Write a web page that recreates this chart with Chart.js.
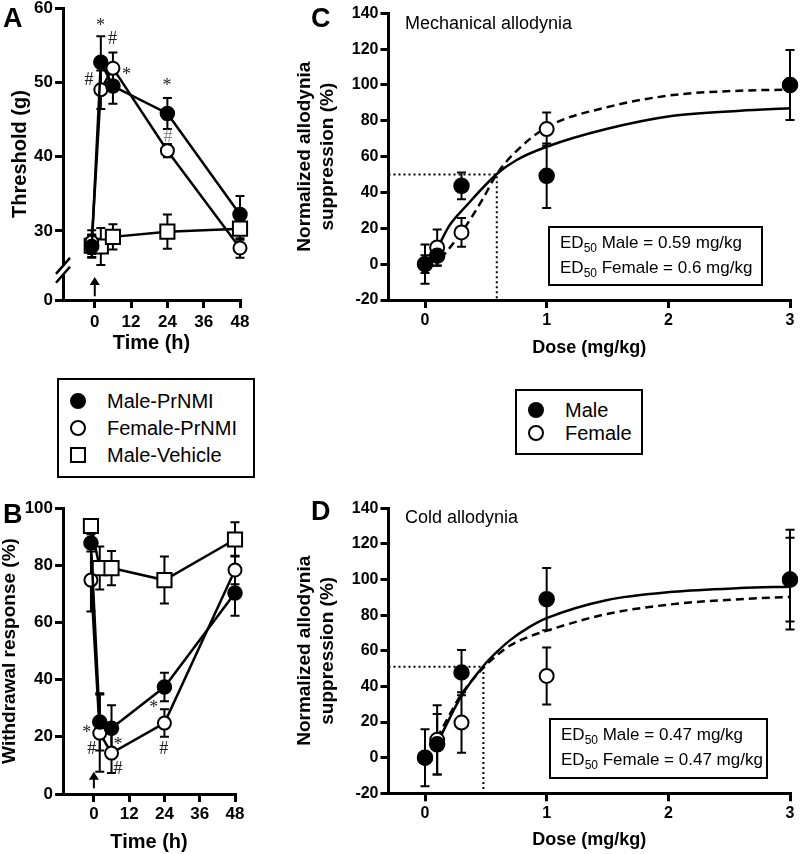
<!DOCTYPE html>
<html>
<head>
<meta charset="utf-8">
<script src="https://cdn.jsdelivr.net/npm/chart.js@4.4.0/dist/chart.umd.min.js"></script>
<style>
  body { margin: 0; background: #fff; }
  #page { position: relative; width: 800px; height: 854px; overflow: hidden;
          font-family: "Liberation Sans", Arial, sans-serif; color: #000; }
  canvas { position: absolute; }
  .lbl { position: absolute; font-weight: bold; font-size: 27px; line-height: 1; }
  .note { position: absolute; font-size: 18px; line-height: 1; white-space: nowrap; }
  .box { position: absolute; border: 2px solid #000; box-sizing: border-box; background: #fff; }
  .row { position: absolute; left: 0; height: 24px; line-height: 24px; font-size: 20px; white-space: nowrap; }
  .row span.t { position: absolute; left: 48px; top: 0; }
  .mk { position: absolute; left: 11px; top: 4px; width: 16px; height: 16px; box-sizing: border-box;
        border: 2.5px solid #000; border-radius: 50%; background: #fff; }
  .mk.fill { background: #000; }
  .mk.sq { border-radius: 0; }
  .ed { position: absolute; border: 2px solid #000; box-sizing: border-box; font-size: 17px;
        line-height: 25px; padding: 2px 0 0 10px; white-space: nowrap; }
  .ed sub { font-size: 12px; line-height: 0; vertical-align: -4px; }
</style>
</head>
<body>
<div id="page">
  <canvas id="chartA"></canvas>
  <canvas id="chartB"></canvas>
  <canvas id="chartC"></canvas>
  <canvas id="chartD"></canvas>

  <div class="lbl" style="left:3px;top:5px">A</div>
  <div class="lbl" style="left:3px;top:501px">B</div>
  <div class="lbl" style="left:311px;top:5px">C</div>
  <div class="lbl" style="left:311px;top:498px">D</div>

  <div class="note" style="left:405px;top:14px">Mechanical allodynia</div>
  <div class="note" style="left:405px;top:508px">Cold allodynia</div>

  <div class="ed" style="left:548px;top:226px;width:215px;height:60px">ED<sub>50</sub> Male = 0.59 mg/kg<br>ED<sub>50</sub> Female = 0.6 mg/kg</div>
  <div class="ed" style="left:549px;top:718px;width:219px;height:61px">ED<sub>50</sub> Male = 0.47 mg/kg<br>ED<sub>50</sub> Female = 0.47 mg/kg</div>

  <div class="box" style="left:57px;top:378px;width:198px;height:100px">
    <div class="row" style="top:9px"><div class="mk fill"></div><span class="t">Male-PrNMI</span></div>
    <div class="row" style="top:36px"><div class="mk"></div><span class="t">Female-PrNMI</span></div>
    <div class="row" style="top:63px"><div class="mk sq"></div><span class="t">Male-Vehicle</span></div>
  </div>
  <div class="box" style="left:515px;top:389px;width:128px;height:66px">
    <div class="row" style="top:7px"><div class="mk fill"></div><span class="t">Male</span></div>
    <div class="row" style="top:30px"><div class="mk"></div><span class="t">Female</span></div>
  </div>
</div>

<script>
// time course panels (A, B)
const timeH = [-1, 2, 6, 24, 48];
const timeTicks = [0, 12, 24, 36, 48];

const aMale = [27.9, 52.7, 49.5, 45.8, 32.2];
const aMaleSem = [1.5, 3.5, 2.4, 2.1, 2.5];
const aFemale = [28.5, 49.0, 51.9, 40.8, 27.7];
const aFemaleSem = [1.6, 2.6, 2.1, 0.9, 1.3];
const aVehicle = [28.0, 27.9, 29.2, 29.9, 30.3];
const aVehicleSem = [1.5, 2.5, 1.7, 2.3, 1.5];
const aYTicks = [20.7, 30, 40, 50, 60];
const aYTickLabels = ['0', '30', '40', '50', '60'];

const bMale = [87.8, 25.2, 23.0, 37.4, 70.3];
const bMaleSem = [3, 10, 8, 5, 8];
const bFemale = [74.8, 21.3, 14.3, 24.8, 78.3];
const bFemaleSem = [11, 13.5, 7, 4.8, 5];
const bVehicle = [93.7, 79, 79, 74.8, 89];
const bVehicleSem = [2, 7.5, 6, 8.2, 6];
const bYTicks = [0, 20, 40, 60, 80, 100];

// dose response panels (C, D)
const doses = [0, 0.1, 0.3, 1, 3];
const doseTicks = [0, 1, 2, 3];
const pctTicks = [-20, 0, 20, 40, 60, 80, 100, 120, 140];

const cMale = [0, 4.7, 43.7, 49.3, 100];
const cMaleSem = [11, 5.6, 7.5, 18, 19.5];
const cFemale = [0, 9.3, 17.7, 75.4, 100];
const cFemaleSem = [5, 10, 8, 9.3, 3];
const cMaleFitX = [0.107, 0.2, 0.34, 0.59, 0.75, 1.0, 1.49, 2.04, 2.59, 3];
const cMaleFitY = [9.5, 21.5, 32.6, 50.3, 58, 65.5, 75.4, 82.8, 85.6, 87];
const cFemaleFitX = [0.13, 0.3, 0.48, 0.59, 0.75, 1.0, 1.49, 2.04, 2.59, 3];
const cFemaleFitY = [3, 17.7, 37, 50.3, 63, 76.4, 87.5, 94.4, 96.8, 97.4];

const dMale = [0, 7.5, 47.8, 89, 100];
const dMaleSem = [16, 17, 12.7, 17.5, 28];
const dFemale = [0, 10, 19.7, 45.9, 100];
const dFemaleSem = [3, 19.5, 17, 16, 23.5];
const dMaleFitX = [0.11, 0.3, 0.48, 0.6, 0.7, 0.85, 1.0, 1.49, 2.04, 2.59, 3];
const dMaleFitY = [9.4, 34.7, 51.5, 60, 66, 73, 78.3, 88.4, 93.1, 95.2, 96];
const dFemaleFitX = [0.1, 0.3, 0.48, 0.6, 0.7, 0.85, 1.0, 1.49, 2.04, 2.59, 3];
const dFemaleFitY = [11.2, 35.6, 50.5, 58, 63, 67.8, 71.3, 80.6, 86.2, 89, 90.3];

// significance marks (* vs vehicle, # vs baseline)
const aSigX = [1.9, 5.9, -1.9, 10.5, 23.9, 24.2];
const aSigY = [58.3, 55.9, 50.4, 51.7, 50.2, 42.8];
const aSigText = ['*', '#', '#', '*', '*', '#'];
const bSigX = [-2.4, -0.7, 8.2, 8.2, 20.4, 23.8];
const bSigY = [23, 16, 18.9, 9.1, 31.8, 16.1];
const bSigText = ['*', '#', '*', '#', '*', '#'];

Chart.defaults.font.family = '"Liberation Sans", Arial, sans-serif';
Chart.defaults.color = '#000';

const pts = (xs, ys) => xs.map((x, i) => ({x: x, y: ys[i]}));

function extrasPlugin(cfg) {
  return {
    id: 'extras',
    beforeDatasetsDraw(chart) {
      const {ctx, chartArea} = chart;
      const xs = chart.scales.x, ys = chart.scales.y;
      ctx.save();
      ctx.strokeStyle = '#000';
      if (cfg.ed50 !== undefined) {
        const px = xs.getPixelForValue(cfg.ed50), py = ys.getPixelForValue(cfg.half);
        ctx.lineWidth = 2;
        ctx.setLineDash([2, 3]);
        ctx.beginPath();
        ctx.moveTo(chartArea.left, py);
        ctx.lineTo(px, py);
        ctx.lineTo(px, chartArea.bottom);
        ctx.stroke();
        ctx.setLineDash([]);
      }
      ctx.lineWidth = 2;
      chart.data.datasets.forEach((ds, i) => {
        if (!ds.errors) return;
        chart.getDatasetMeta(i).data.forEach((el, j) => {
          const e = ds.errors[j];
          if (!e) return;
          const v = ds.data[j].y;
          const t = ys.getPixelForValue(v + e), b = ys.getPixelForValue(v - e);
          ctx.beginPath();
          ctx.moveTo(el.x, t); ctx.lineTo(el.x, b);
          ctx.moveTo(el.x - 4.5, t); ctx.lineTo(el.x + 4.5, t);
          ctx.moveTo(el.x - 4.5, b); ctx.lineTo(el.x + 4.5, b);
          ctx.stroke();
        });
      });
      ctx.restore();
    },
    afterDraw(chart) {
      const {ctx, chartArea} = chart;
      const xs = chart.scales.x, ys = chart.scales.y;
      ctx.save();
      if (cfg.brk) {
        const y1 = ys.getPixelForValue(cfg.brk[0]), y2 = ys.getPixelForValue(cfg.brk[1]);
        const l = chartArea.left;
        ctx.fillStyle = '#fff';
        ctx.fillRect(l - 3, y2, 6, y1 - y2);
        ctx.strokeStyle = '#000';
        ctx.lineWidth = 2.5;
        ctx.beginPath();
        [y1, y2].forEach(y => { ctx.moveTo(l - 7, y + 8); ctx.lineTo(l + 7, y - 8); });
        ctx.stroke();
      }
      if (cfg.arrow) {
        const px = xs.getPixelForValue(cfg.arrow[0]);
        const p0 = ys.getPixelForValue(cfg.arrow[1]), p1 = ys.getPixelForValue(cfg.arrow[2]);
        ctx.strokeStyle = '#000';
        ctx.fillStyle = '#000';
        ctx.lineWidth = 2;
        ctx.beginPath();
        ctx.moveTo(px, p0); ctx.lineTo(px, p1 + 6);
        ctx.stroke();
        ctx.beginPath();
        ctx.moveTo(px, p1); ctx.lineTo(px - 5, p1 + 8); ctx.lineTo(px + 5, p1 + 8);
        ctx.closePath();
        ctx.fill();
      }
      if (cfg.sigX) {
        ctx.font = '18px "Liberation Serif", "Times New Roman", serif';
        ctx.textAlign = 'center';
        ctx.textBaseline = 'alphabetic';
        cfg.sigX.forEach((sx, i) => {
          const px = xs.getPixelForValue(sx), py = ys.getPixelForValue(cfg.sigY[i]);
          const t = cfg.sigText[i];
          ctx.fillStyle = (cfg.sigGray && cfg.sigGray.includes(i)) ? '#888' : '#222';
          ctx.fillText(t, px, py + (t === '*' ? 10 : 6));
        });
      }
      ctx.restore();
    }
  };
}

function markerSet(kind, r) {
  if (kind === 'fill') return {pointRadius: r, pointBackgroundColor: '#000', pointBorderColor: '#000', pointBorderWidth: 1.5};
  if (kind === 'open') return {pointRadius: r, pointBackgroundColor: '#fff', pointBorderColor: '#000', pointBorderWidth: 2};
  return {pointRadius: 10, pointStyle: 'rect', pointBackgroundColor: '#fff', pointBorderColor: '#000', pointBorderWidth: 2};
}

function seriesDs(label, xs, ys, errs, kind, r, line) {
  return Object.assign({
    label: label, data: pts(xs, ys), errors: errs,
    showLine: line, borderColor: '#000', borderWidth: 2.5, clip: false,
    pointHoverRadius: r
  }, markerSet(kind, r));
}

function fitDs(label, xs, ys, dashed) {
  return {
    label: label, data: pts(xs, ys), showLine: true, pointRadius: 0,
    borderColor: '#000', borderWidth: 2.5, borderDash: dashed ? [8, 5] : [],
    cubicInterpolationMode: 'monotone', clip: false
  };
}

function makeChart(id, g, ax, datasets, extras) {
  const cv = document.getElementById(id);
  cv.width = g.w; cv.height = g.h;
  cv.style.left = g.x0 + 'px';
  cv.style.top = g.y0 + 'px';
  const xAxisH = g.xAxisH;
  return new Chart(cv, {
    type: 'scatter',
    data: {datasets: datasets},
    options: {
      responsive: false,
      animation: false,
      layout: {padding: {left: 0, top: g.T - g.y0, right: g.x0 + g.w - g.R, bottom: g.y0 + g.h - g.B - xAxisH}},
      plugins: {legend: {display: false}, tooltip: {enabled: false}},
      scales: {
        x: {
          type: 'linear', min: ax.xMin, max: ax.xMax,
          afterBuildTicks: s => { s.ticks = ax.xTicks.map(v => ({value: v})); },
          afterFit: s => { s.height = xAxisH; },
          border: {color: '#000', width: 3},
          grid: {drawOnChartArea: false, color: '#000', lineWidth: 3, tickLength: 8},
          ticks: {color: '#000', font: {size: ax.tickSize, weight: 'bold'}, padding: ax.xTickPad, maxRotation: 0},
          title: {display: true, text: ax.xTitle, color: '#000', font: {size: ax.xTitleSize, weight: 'bold'}, padding: 0}
        },
        y: {
          type: 'linear', min: ax.yMin, max: ax.yMax,
          afterBuildTicks: s => { s.ticks = ax.yTicks.map(v => ({value: v})); },
          afterFit: s => { s.width = g.L - g.x0; },
          border: {color: '#000', width: 3},
          grid: {drawOnChartArea: false, color: '#000', lineWidth: 3, tickLength: 8},
          ticks: {color: '#000', font: {size: ax.tickSize, weight: 'bold'}, padding: 2,
                  callback: (v, i) => ax.yLabels ? ax.yLabels[i] : v},
          title: {display: true, text: ax.yTitle, color: '#000', font: {size: ax.yTitleSize, weight: 'bold'},
                  padding: {top: ax.yTitlePad, bottom: 0}}
        }
      }
    },
    plugins: [extrasPlugin(extras)]
  });
}

makeChart('chartA',
  {x0: -10, y0: -20, w: 320, h: 380, L: 63, T: 8, R: 240, B: 300, xAxisH: 55},
  {xMin: -10.5, xMax: 48, xTicks: timeTicks, yMin: 20.7, yMax: 60, yTicks: aYTicks, yLabels: aYTickLabels,
   tickSize: 17, xTickPad: 4, xTitle: 'Time (h)', xTitleSize: 20, yTitle: 'Threshold (g)', yTitleSize: 20, yTitlePad: 18},
  [
    seriesDs('Male-PrNMI', timeH, aMale, aMaleSem, 'fill', 7, true),
    seriesDs('Female-PrNMI', timeH, aFemale, aFemaleSem, 'open', 6.5, true),
    seriesDs('Male-Vehicle', timeH, aVehicle, aVehicleSem, 'sq', 7, true)
  ],
  {brk: [24.1, 25.3], arrow: [0, 21.2, 23.8], sigX: aSigX, sigY: aSigY, sigText: aSigText, sigGray: [5]}
);

makeChart('chartB',
  {x0: -10, y0: 480, w: 320, h: 374, L: 63, T: 508, R: 235, B: 794, xAxisH: 60},
  {xMin: -10.5, xMax: 48, xTicks: timeTicks, yMin: 0, yMax: 100, yTicks: bYTicks,
   tickSize: 17, xTickPad: 2, xTitle: 'Time (h)', xTitleSize: 20, yTitle: 'Withdrawal response (%)', yTitleSize: 19, yTitlePad: 8},
  [
    seriesDs('Male-PrNMI', timeH, bMale, bMaleSem, 'fill', 7, true),
    seriesDs('Female-PrNMI', timeH, bFemale, bFemaleSem, 'open', 6.5, true),
    seriesDs('Male-Vehicle', timeH, bVehicle, bVehicleSem, 'sq', 7, true)
  ],
  {arrow: [0, 2, 7.8], sigX: bSigX, sigY: bSigY, sigText: bSigText}
);

const nasTitle = ['Normalized allodynia', 'suppression (%)'];

makeChart('chartC',
  {x0: 285, y0: -15, w: 515, h: 375, L: 388.5, T: 13.3, R: 790, B: 300, xAxisH: 58.8},
  {xMin: -0.3, xMax: 3, xTicks: doseTicks, yMin: -20, yMax: 140, yTicks: pctTicks,
   tickSize: 16, xTickPad: 3, xTitle: 'Dose (mg/kg)', xTitleSize: 18, yTitle: nasTitle, yTitleSize: 19, yTitlePad: 8.6},
  [
    seriesDs('Male', doses, cMale, cMaleSem, 'fill', 7.5, false),
    seriesDs('Female', doses, cFemale, cFemaleSem, 'open', 7, false),
    fitDs('Male fit', cMaleFitX, cMaleFitY, false),
    fitDs('Female fit', cFemaleFitX, cFemaleFitY, true)
  ],
  {ed50: 0.59, half: 50}
);

makeChart('chartD',
  {x0: 285, y0: 480, w: 515, h: 374, L: 388.5, T: 508.3, R: 790, B: 793.3, xAxisH: 57.5},
  {xMin: -0.3, xMax: 3, xTicks: doseTicks, yMin: -20, yMax: 140, yTicks: pctTicks,
   tickSize: 16, xTickPad: 3, xTitle: 'Dose (mg/kg)', xTitleSize: 18, yTitle: nasTitle, yTitleSize: 19, yTitlePad: 8.6},
  [
    seriesDs('Male', doses, dMale, dMaleSem, 'fill', 7.5, false),
    seriesDs('Female', doses, dFemale, dFemaleSem, 'open', 7, false),
    fitDs('Male fit', dMaleFitX, dMaleFitY, false),
    fitDs('Female fit', dFemaleFitX, dFemaleFitY, true)
  ],
  {ed50: 0.48, half: 51}
);
</script>
</body>
</html>
